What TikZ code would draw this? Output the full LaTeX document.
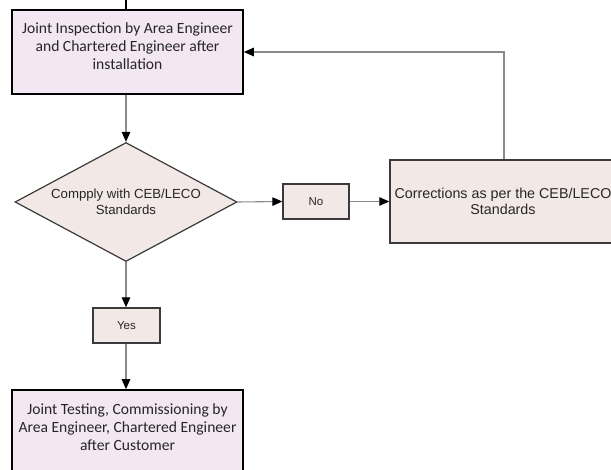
\documentclass[tikz,border=0pt]{standalone}
\usepackage{fontspec}
\setmainfont{Liberation Sans}
\newfontfamily\calib{Carlito}
\usetikzlibrary{shapes.geometric,arrows.meta}
\definecolor{lav}{HTML}{F3E7F3}
\definecolor{beige}{HTML}{F2E8E6}
\definecolor{conngray}{HTML}{8A8A8A}
\definecolor{edge}{HTML}{3A3A3A}
\definecolor{txt}{HTML}{262626}
\tikzset{
  mainbox/.style={draw=black, line width=1.6pt, fill=lav, inner sep=0pt},
  procbox/.style={draw=edge, line width=1.4pt, fill=beige, inner sep=0pt},
  decision/.style={diamond, draw=edge, line width=1.2pt, fill=beige, inner sep=0pt, aspect=1.87},
  conn/.style={draw=conngray, line width=1.1pt, -{Triangle[length=10pt,width=8.5pt,color=black]}},
  plain/.style={draw=conngray, line width=1.1pt},
  caltext/.style={font=\calib\fontsize{15.6}{18}\selectfont, text=txt, align=center},
  arialtext/.style={text=txt, align=center}
}
\begin{document}
\begin{tikzpicture}[x=1pt,y=-1pt]
\useasboundingbox (0,0) rectangle (611,470);
\clip (0,0) rectangle (611,470);
% boxes
\node[mainbox, minimum width=231pt, minimum height=84pt] (top) at (127.5,52) {};
\node[caltext] (toptext) at (127.5,46) {Joint Inspection by Area Engineer\\and Chartered Engineer after\\installation};
\node[decision, minimum width=222pt, minimum height=119pt, arialtext, font=\fontsize{13.2}{16}\selectfont] (dia) at (126,202) {Compply with CEB/LECO\\Standards};
\node[procbox, minimum width=66pt, minimum height=35pt, arialtext, font=\fontsize{11.5}{14}\selectfont] (no) at (316,201.5) {No};
\node[procbox, minimum width=228pt, minimum height=83pt] (corr) at (504,201.5) {};
\node[arialtext, font=\fontsize{14.3}{16.5}\selectfont] (corrtext) at (503,201.5) {Corrections as per the CEB/LECO\\Standards};
\node[procbox, minimum width=67pt, minimum height=35pt, arialtext, font=\fontsize{11.5}{14}\selectfont] (yes) at (126.5,325.5) {Yes};
\node[mainbox, minimum width=231pt, minimum height=88pt] (bot) at (127.5,434) {};
\node[caltext] (bottext) at (127.5,427) {Joint Testing, Commissioning by\\Area Engineer, Chartered Engineer\\after Customer};
% connectors
\coordinate (tin) at (126,0);
\draw[plain, draw=black] (tin) -- (tin |- top.north);
\draw[conn] (top.south -| dia.north) -- (dia.north);
\draw[conn] (dia.east) -- (no.west);
\draw[conn] (no.east) -- (corr.west);
\draw[conn] (corr.north) |- (top.east);
\draw[conn] (dia.south) -- (yes.north -| dia.south);
\draw[conn] (yes.south -| dia.south) -- (bot.north -| dia.south);
\end{tikzpicture}
\end{document}
